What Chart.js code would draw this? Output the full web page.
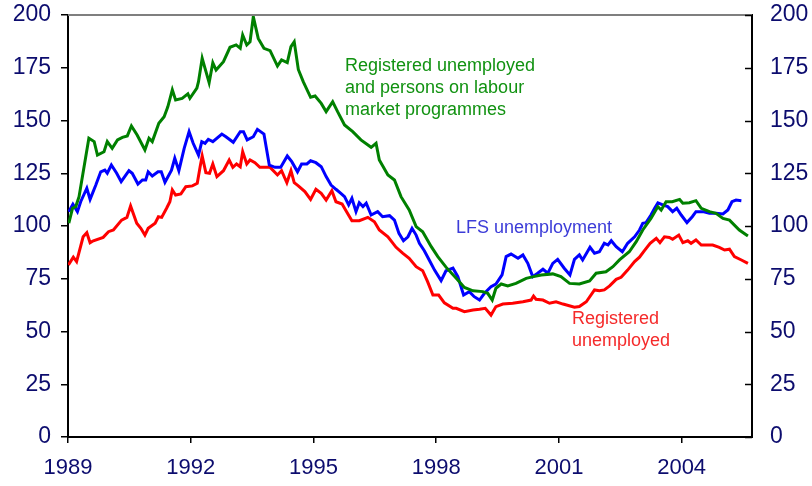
<!DOCTYPE html>
<html>
<head>
<meta charset="utf-8">
<script src="https://cdn.jsdelivr.net/npm/chart.js@4.4.1/dist/chart.umd.min.js"></script>
<style>
html,body{margin:0;padding:0;background:#fff;}
#wrap{width:812px;height:486px;}
</style>
</head>
<body>
<div id="wrap"><canvas id="c" width="812" height="486"></canvas></div>
<script>
// ---- data (decimal years and index values) ----
const xTickYears = [1989, 1992, 1995, 1998, 2001, 2004];
const xMin = 1989, xMax = 2005.72;
const yMin = 0, yMax = 200, yStep = 25;

const seriesNames = [
  "Registered unemployed and persons on labour market programmes",
  "LFS unemployment",
  "Registered unemployed"
];

const regProgDates = [1989.02,1989.11,1989.19,1989.27,1989.51,1989.64,1989.72,1989.88,1989.96,1990.08,1990.21,1990.33,1990.45,1990.55,1990.69,1990.88,1990.98,1991.06,1991.22,1991.35,1991.44,1991.55,1991.63,1991.79,1991.93,1991.98,1992.15,1992.19,1992.28,1992.35,1992.45,1992.54,1992.62,1992.80,1992.96,1993.11,1993.21,1993.27,1993.37,1993.45,1993.53,1993.65,1993.79,1993.94,1994.12,1994.22,1994.36,1994.45,1994.53,1994.63,1994.75,1994.93,1995.04,1995.19,1995.31,1995.47,1995.59,1995.76,1995.96,1996.16,1996.41,1996.53,1996.61,1996.82,1996.98,1997.14,1997.34,1997.51,1997.67,1997.88,1998.04,1998.24,1998.49,1998.69,1998.90,1999.14,1999.26,1999.37,1999.46,1999.59,1999.75,1999.95,2000.20,2000.38,2000.57,2000.85,2001.05,2001.26,2001.50,2001.75,2001.91,2002.15,2002.32,2002.48,2002.72,2002.89,2003.05,2003.25,2003.42,2003.50,2003.62,2003.77,2003.95,2004.03,2004.19,2004.35,2004.48,2004.68,2004.84,2005.01,2005.17,2005.41,2005.62];
const regProgValues = [101.3,108.4,109.2,113.9,141.6,140,133.6,135.2,140,136.8,140.8,142,142.7,147.4,143.1,136,141.6,140,148.7,151.8,156.5,164.5,159.7,160.5,162.6,160.5,165.3,168.4,179.5,174.7,167.9,177.4,173.9,177.9,184.7,185.8,184.2,190.5,185.8,187.3,199.2,188.9,184.2,183.1,175.8,178.7,177.4,185,187.3,174.2,168.4,161,161.6,158.1,154.2,158.9,154.2,147.9,144.7,140.8,137.3,139.2,131.3,124.2,121.8,113.9,107.6,99.7,97.3,90.2,85.5,80.5,75.2,70.9,69.3,68.9,68.1,64.9,70.5,72.5,71.6,72.8,75.2,76,76.8,77.3,76,72.8,72.5,74,77.6,78.3,80.7,83.9,87.8,92.6,98.1,103.6,109.2,107.6,111.5,111.5,112.6,110.8,111,112,108.4,106.8,106,103.6,102.8,98.1,95.3];

const lfsDates = [1989.02,1989.12,1989.23,1989.31,1989.46,1989.54,1989.68,1989.80,1989.90,1989.96,1990.06,1990.19,1990.30,1990.49,1990.57,1990.71,1990.82,1990.90,1990.96,1991.06,1991.20,1991.28,1991.37,1991.53,1991.61,1991.71,1991.84,1991.96,1992.06,1992.19,1992.27,1992.35,1992.43,1992.54,1992.76,1992.86,1993.04,1993.21,1993.29,1993.38,1993.53,1993.63,1993.79,1993.92,1994.06,1994.20,1994.36,1994.47,1994.61,1994.71,1994.84,1994.93,1995.06,1995.19,1995.31,1995.43,1995.55,1995.67,1995.76,1995.86,1995.94,1996.04,1996.12,1996.21,1996.29,1996.41,1996.57,1996.69,1996.86,1996.98,1997.09,1997.20,1997.31,1997.41,1997.51,1997.59,1997.71,1997.83,1997.96,1998.12,1998.24,1998.41,1998.53,1998.67,1998.81,1998.93,1999.06,1999.18,1999.34,1999.46,1999.61,1999.71,1999.83,2000.00,2000.12,2000.24,2000.36,2000.48,2000.61,2000.73,2000.85,2000.97,2001.13,2001.27,2001.38,2001.50,2001.58,2001.76,2001.87,2001.99,2002.11,2002.20,2002.28,2002.40,2002.55,2002.68,2002.85,2002.97,2003.05,2003.13,2003.25,2003.34,2003.42,2003.54,2003.66,2003.78,2003.88,2003.99,2004.13,2004.26,2004.35,2004.52,2004.68,2004.84,2005.01,2005.13,2005.23,2005.33,2005.46];
const lfsValues = [106.8,110.3,106.8,111.5,117.9,112.6,119.4,125.7,126.5,125,128.9,125,121,126.2,125,119.9,121.8,121.8,125.7,123.7,125.7,125.7,120.7,126.5,132.1,126.2,136.8,144.7,139.2,133.6,140,139.2,141.1,140,143.6,142.3,139.7,144.7,144.7,140.8,142.3,145.8,143.6,128.9,127.8,127.8,133.2,130.5,125.7,129.4,129.4,130.9,130,128.1,123.4,119.4,117.4,115.5,113.9,110,113.1,106.8,111,109.2,110.8,105.2,106.8,104.4,104.9,102.8,96.5,93,94.9,98.9,95.7,91.8,88.3,83.9,79.1,74.1,78.8,80,76,67.3,68.9,66.5,64.9,68.1,71.2,72.5,76.8,85.5,86.7,84.7,86.3,82.3,76,77.6,79.5,77.6,82.3,84.2,80,76.8,84.2,86.3,83.9,89.9,87.1,87.8,91.8,91,93,90.2,87.8,91.8,94.9,98.1,101.3,101.6,105.2,108.4,111,110,109.2,106.8,108.4,105.2,101.6,104.4,106.8,106.8,106,106,105.7,107.6,111.5,112.3,112];

const regDates = [1989.01,1989.13,1989.21,1989.37,1989.46,1989.54,1989.62,1989.86,1989.99,1990.11,1990.31,1990.44,1990.53,1990.68,1990.78,1990.88,1990.96,1991.13,1991.21,1991.29,1991.41,1991.49,1991.55,1991.63,1991.76,1991.88,1992.04,1992.16,1992.23,1992.28,1992.37,1992.46,1992.54,1992.64,1992.80,1992.94,1993.03,1993.12,1993.21,1993.27,1993.37,1993.45,1993.57,1993.69,1993.94,1994.12,1994.22,1994.35,1994.45,1994.53,1994.63,1994.79,1994.93,1995.06,1995.19,1995.31,1995.45,1995.55,1995.70,1995.81,1995.94,1996.12,1996.33,1996.49,1996.61,1996.82,1997.02,1997.18,1997.34,1997.51,1997.67,1997.79,1997.92,1998.06,1998.20,1998.41,1998.49,1998.69,1998.90,1999.06,1999.20,1999.34,1999.46,1999.63,1999.87,2000.12,2000.32,2000.38,2000.44,2000.61,2000.77,2000.93,2001.10,2001.38,2001.50,2001.67,2001.87,2001.99,2002.11,2002.24,2002.40,2002.52,2002.68,2002.85,2002.97,2003.09,2003.23,2003.38,2003.47,2003.58,2003.70,2003.78,2003.93,2004.03,2004.15,2004.23,2004.35,2004.48,2004.76,2004.92,2005.05,2005.17,2005.29,2005.46,2005.62];
const regValues = [81.5,85.2,83.1,94.9,96.8,92.1,93,94.6,97.3,98.1,102.8,104.1,109.5,101.3,98.9,95.7,98.9,101.3,104.4,104.1,108.4,111.5,117.1,114.7,115.2,118.6,119,120.2,128.1,133.2,125.3,125,129.4,123.4,126.2,131.3,127.8,129.4,128.1,135.2,129.4,131.3,130,127.8,127.8,124.2,126.2,120.5,126.2,120.5,119,116.3,112.6,117.4,115.5,112.3,116.7,111.5,110.4,106.8,102.5,102.5,104.1,102,98.1,94.9,89.9,87.1,84.7,80.7,78.8,73.6,67.3,67.3,63.6,61,61,59.4,60.2,60.5,61,57.8,61.8,63,63.4,64.1,64.9,66.8,65.3,64.9,63.4,64.1,63,61.5,61.8,64.1,69.7,69.3,69.7,71.6,74.7,75.7,79.1,83.1,85.2,88.3,91.8,94.2,92.1,94.9,94.6,93.7,95.7,92.1,93,91.8,93.4,91,91,89.9,88.6,89,85.5,83.9,82.3];

// ---- styles ----
const NAVY = '#0c0c6e';
const FONT = '"Liberation Sans", Arial, sans-serif';

function pts(d, v) { return d.map((x, i) => ({ x: x, y: v[i] })); }
function noPadV(s, w) { s.width = w; s.paddingTop = 0; s.paddingBottom = 0; }

const frame = {
  id: 'frame',
  afterDraw(chart) {
    const ctx = chart.ctx, a = chart.chartArea, y2 = chart.scales.y2;
    ctx.save();
    // top border
    ctx.strokeStyle = '#7f7f7f';
    ctx.lineWidth = 2;
    ctx.beginPath(); ctx.moveTo(a.left, a.top); ctx.lineTo(a.right, a.top); ctx.stroke();
    // right axis inside ticks
    ctx.strokeStyle = '#000';
    ctx.lineWidth = 1.5;
    y2.ticks.forEach(t => {
      const py = Math.round(y2.getPixelForValue(t.value)) + 0.5;
      ctx.beginPath(); ctx.moveTo(a.right - 7, py); ctx.lineTo(a.right, py); ctx.stroke();
    });
    // annotations
    ctx.font = '18px ' + FONT;
    ctx.textBaseline = 'alphabetic';
    ctx.fillStyle = '#119211';
    ctx.fillText('Registered unemployed', 345, 71);
    ctx.fillText('and persons on labour', 345, 93);
    ctx.fillText('market programmes', 345, 115);
    ctx.fillStyle = '#3c3cd8';
    ctx.fillText('LFS unemployment', 456, 233);
    ctx.fillStyle = '#f52a2a';
    ctx.fillText('Registered', 572, 324);
    ctx.fillText('unemployed', 572, 346);
    ctx.restore();
  }
};

new Chart(document.getElementById('c'), {
  type: 'line',
  data: {
    datasets: [
      { label: seriesNames[0], data: pts(regProgDates, regProgValues), borderColor: '#008000', borderWidth: 3, pointRadius: 0, tension: 0, yAxisID: 'y' },
      { label: seriesNames[1], data: pts(lfsDates, lfsValues), borderColor: '#0000ff', borderWidth: 3, pointRadius: 0, tension: 0, yAxisID: 'y' },
      { label: seriesNames[2], data: pts(regDates, regValues), borderColor: '#ff0000', borderWidth: 3, pointRadius: 0, tension: 0, yAxisID: 'y' }
    ]
  },
  options: {
    responsive: false,
    animation: false,
    devicePixelRatio: 1,
    layout: { padding: { top: 15, left: 0, right: 0, bottom: 0 } },
    plugins: { legend: { display: false }, tooltip: { enabled: false } },
    scales: {
      x: {
        type: 'linear', min: xMin, max: xMax,
        afterBuildTicks: s => { s.ticks = xTickYears.map(v => ({ value: v })); },
        afterFit: s => { s.height = 49; s.paddingLeft = 0; s.paddingRight = 0; },
        grid: { display: true, drawOnChartArea: false, drawTicks: true, tickLength: 6, color: '#000', lineWidth: 1.5 },
        border: { display: true, color: '#000', width: 2 },
        ticks: { color: NAVY, font: { family: FONT, size: 22 }, padding: 12, maxRotation: 0, autoSkip: false, callback: v => String(v) }
      },
      y: {
        position: 'left', min: yMin, max: yMax,
        afterFit: s => noPadV(s, 68),
        grid: { display: true, drawOnChartArea: false, drawTicks: true, tickLength: 7, color: '#000', lineWidth: 1.5 },
        border: { display: true, color: '#000', width: 2 },
        ticks: { stepSize: yStep, color: NAVY, font: { family: FONT, size: 23 }, padding: 10 }
      },
      y2: {
        position: 'right', min: yMin, max: yMax,
        afterFit: s => noPadV(s, 60),
        grid: { display: false, drawTicks: false },
        border: { display: true, color: '#000', width: 2 },
        ticks: { stepSize: yStep, color: NAVY, font: { family: FONT, size: 23 }, padding: 18 }
      }
    }
  },
  plugins: [frame]
});
</script>
</body>
</html>
